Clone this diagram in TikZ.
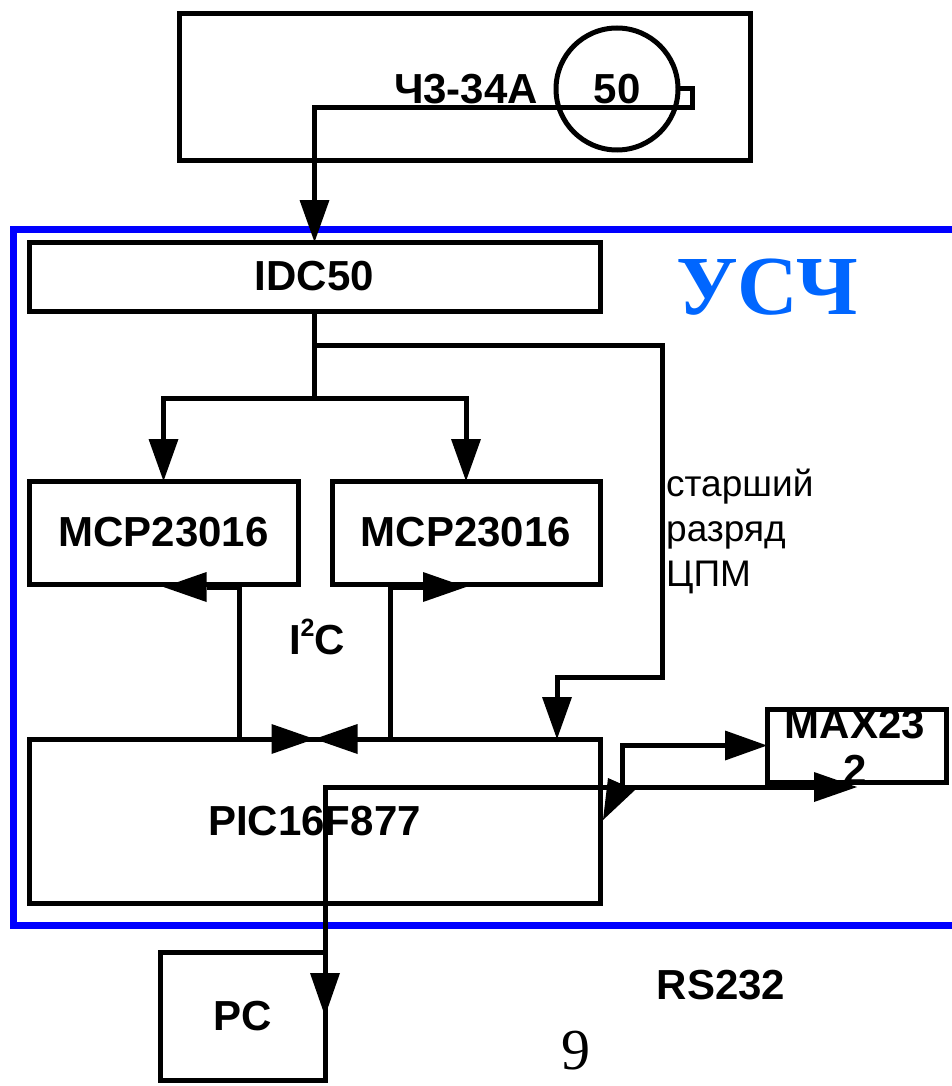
\documentclass[tikz,border=0pt]{standalone}
\usepackage{fontspec}
\setmainfont{Liberation Serif}
\setsansfont{Liberation Sans}
\usetikzlibrary{arrows.meta,calc}
\definecolor{frameblue}{RGB}{0,0,255}
\definecolor{titleblue}{RGB}{0,102,255}
\newcommand\mylbl{\sffamily\bfseries\fontsize{42}{50}\selectfont}
\newcommand\mytitle{\rmfamily\bfseries\fontsize{84}{90}\selectfont}
\begin{document}
\begin{tikzpicture}[x=1pt,y=-1pt,
  box/.style={draw, line width=5pt, inner sep=0pt, outer sep=0pt, font=\mylbl},
  lab/.style={inner sep=0pt, font=\mylbl},
  conn/.style={line width=5pt},
  arr/.style={conn, -{Triangle[length=42pt,width=30pt,line width=0pt]}},
  darr/.style={conn, {Triangle[length=43pt,width=30pt,line width=0pt]}-{Triangle[length=43pt,width=30pt,line width=0pt]}}]
\useasboundingbox (0,0) rectangle (951,1086);
\fill[white] (0,0) rectangle (951,1086);
% blue frame of the device
\draw[line width=7pt, frameblue] (13,229) rectangle (970,925);
% nodes
\node[box, minimum width=571pt, minimum height=147pt] (gen) at (464.5,87.5) {};
\node[lab] (gname) at (466,89) {Ч3-34А};
\node[box, circle, minimum size=122pt] (c50) at (617,89) {50};
\node[box, minimum width=571pt, minimum height=69pt] (idc) at (314.5,276.5) {IDC50};
\node[inner sep=0pt, font=\mytitle, text=titleblue] (usch) at (767,287) {УСЧ};
\node[box, minimum width=269pt, minimum height=103pt] (mcpa) at (163.5,532.5) {MCP23016};
\node[box, minimum width=268pt, minimum height=103pt] (mcpb) at (466,532.5) {MCP23016};
\node[box, minimum width=571pt, minimum height=164pt] (pic) at (314.5,821) {PIC16F877};
\node[box, minimum width=179pt, minimum height=73pt] (max) at (856.5,745.5) {};
\node[lab] (maxa) at (855,724) {MAX23};
\node[lab] (maxb) at (855,770) {2};
\node[box, minimum width=165pt, minimum height=128pt] (pc) at (242.5,1016) {PC};
\node[lab] (rs) at (721,985) {RS232};
\node[lab] (i2c) at (317,637) {I\raisebox{.42em}{\fontsize{25}{25}\selectfont 2}C};
\node[inner sep=0pt, anchor=north west, align=left, font=\sffamily\fontsize{37}{45}\selectfont] (msb) at (666,469) {старший\\разряд\\ЦПМ};
\node[inner sep=0pt, font=\rmfamily\fontsize{58}{64}\selectfont] (pg) at (576,1051) {9};
% connectors
\coordinate (h1) at (692,108);
\draw[arr] (c50.east) -| (h1) -| (idc.north);
\coordinate (split) at (314.5,398);
\draw[conn] (idc.south) -- (split);
\draw[arr] (split) -| (mcpa.north);
\draw[arr] (split) -| (mcpb.north);
\coordinate (b1) at (314.5,345);
\coordinate (b2) at (662,677);
\coordinate (b3) at (557,0);
\draw[arr] (b1) -| (b2) -| (pic.north -| b3);
\coordinate (v1) at (239,600);
\coordinate (v2) at (390,600);
\draw[darr] ([yshift=-3pt]mcpa.south) -| (v1) |- (pic.north);
\draw[darr] ([yshift=-3pt]mcpb.south) -| (v2) |- (pic.north);
\coordinate (r0) at (325,787);
\coordinate (r1) at (857,787);
\coordinate (m1) at (622,787);
\draw[darr] (r1) -- (r0) -- (pc.east);
\draw[arr] (m1) |- (max.west);
\fill (608,778) -- (635,790) -- (603,820) -- cycle;
\end{tikzpicture}
\end{document}
